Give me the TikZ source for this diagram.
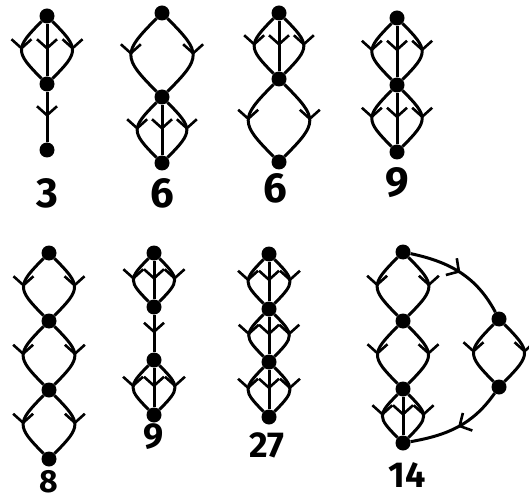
\documentclass[tikz,border=0pt]{standalone}
\usepackage{fontspec}
\setmainfont{Fira Sans}
\usetikzlibrary{arrows.meta,decorations.markings}

\begin{document}
\begin{tikzpicture}[x=1pt, y=1pt,
  vtx/.style={circle, fill=black, inner sep=0pt, minimum size=15pt},
  edg/.style={line width=3pt, postaction={decorate},
              decoration={markings, mark=at position 0.5 with
              {\arrow{Straight Barb[length=9pt, width=20pt, line width=2.6pt]}}}},
  lft/.style={out=225, in=135, looseness=1.7},
  rgt/.style={out=-45, in=45, looseness=1.7},
  num/.style={inner sep=0pt, font=\fontsize{#1}{#1}\selectfont\bfseries},
  num/.default=36
]
  \useasboundingbox (0,0) rectangle (529,501);

  % top row
  \node[vtx] (a1) at (47,485) {};
  \node[vtx] (b1) at (47,417) {};
  \node[vtx] (c1) at (47,351) {};
  \node[num=42] (n1) at (47,308) {3};

  \node[vtx] (a2) at (162,488) {};
  \node[vtx] (b2) at (162,404) {};
  \node[vtx] (c2) at (162,338) {};
  \node[num=42] (n2) at (162,308) {6};

  \node[vtx] (a3) at (279,488) {};
  \node[vtx] (b3) at (279,422) {};
  \node[vtx] (c3) at (279,339) {};
  \node[num=42] (n3) at (275,313) {6};

  \node[vtx] (a4) at (397,483) {};
  \node[vtx] (b4) at (397,416) {};
  \node[vtx] (c4) at (397,349) {};
  \node[num=42] (n4) at (397,318) {9};

  % bottom row
  \node[vtx] (a5) at (49,248) {};
  \node[vtx] (b5) at (49,180) {};
  \node[vtx] (c5) at (49,111) {};
  \node[vtx] (d5) at (49,42) {};
  \node[num=32] (n5) at (49,19) {8};

  \node[vtx] (a6) at (154,248) {};
  \node[vtx] (b6) at (154,194) {};
  \node[vtx] (c6) at (154,141) {};
  \node[vtx] (d6) at (154,86) {};
  \node[num=36] (n6) at (154,64) {9};

  \node[vtx] (a7) at (269,247) {};
  \node[vtx] (b7) at (269,192) {};
  \node[vtx] (c7) at (269,139) {};
  \node[vtx] (d7) at (269,84) {};
  \node[num=36] (n7) at (267,56) {27};

  \node[vtx] (a8) at (403,249) {};
  \node[vtx] (b8) at (403,180) {};
  \node[vtx] (c8) at (403,112) {};
  \node[vtx] (d8) at (403,58) {};
  \node[vtx] (e8) at (499,182) {};
  \node[vtx] (f8) at (499,114) {};
  \node[num=36] (n8) at (407,26) {14};

  \foreach \u/\v in {a1/b1, a2/b2, b2/c2, a3/b3, b3/c3, a4/b4, b4/c4,
                     a5/b5, b5/c5, c5/d5, a6/b6, c6/d6, a7/b7, b7/c7, c7/d7,
                     a8/b8, b8/c8, c8/d8, e8/f8} {
    \draw[edg] (\u) to[lft] (\v);
    \draw[edg] (\u) to[rgt] (\v);
  }
  \foreach \u/\v in {a1/b1, b1/c1, b2/c2, a3/b3, a4/b4, b4/c4,
                     a6/b6, b6/c6, c6/d6, a7/b7, b7/c7, c7/d7, c8/d8}
    \draw[edg] (\u) -- (\v);

  \draw[edg] (a8) to[out=-12, in=118] (e8);
  \draw[edg] (f8) to[out=-125, in=10] (d8);
\end{tikzpicture}
\end{document}
